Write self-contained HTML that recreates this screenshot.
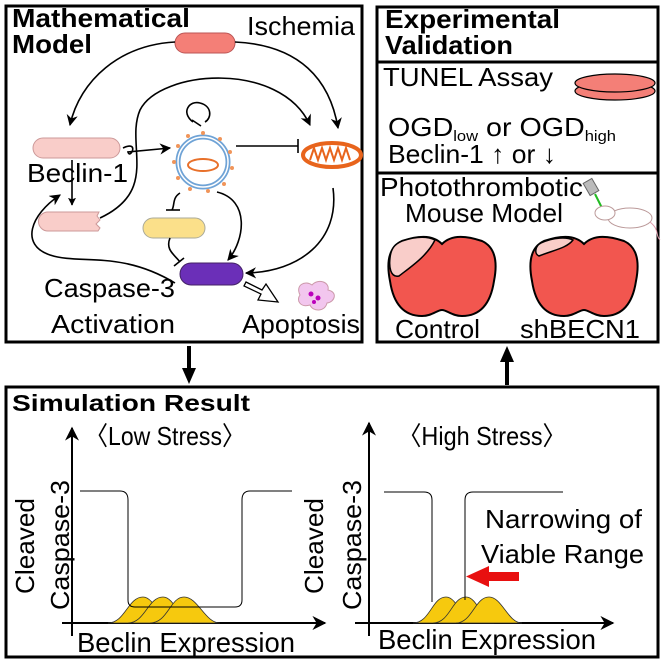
<!DOCTYPE html>
<html><head><meta charset="utf-8"><style>
body{margin:0;background:#fff}
svg{display:block;font-family:"Liberation Sans",sans-serif}
</style></head><body>
<svg width="664" height="664" viewBox="0 0 664 664" xmlns="http://www.w3.org/2000/svg">
<defs>
<marker id="a" viewBox="0 0 10 10" refX="9" refY="5" markerWidth="7" markerHeight="7" orient="auto"><path d="M0,0 L10,5 L0,10 L3,5Z" fill="#000"/></marker>
<marker id="ab" viewBox="0 0 10 10" refX="9" refY="5" markerWidth="5" markerHeight="5" orient="auto"><path d="M0,0 L10,5 L0,10 L2,5Z" fill="#000"/></marker>
</defs>
<g fill="none" stroke="#000" stroke-width="3">
<rect x="6" y="6" width="356" height="336"/>
<rect x="377" y="7" width="281" height="335"/>
<line x1="377" y1="62" x2="658" y2="62"/>
<line x1="377" y1="173" x2="658" y2="173"/>
<rect x="6" y="387" width="652" height="270"/>
</g>
<line x1="189" y1="346" x2="189" y2="372" stroke="#000" stroke-width="4"/>
<path d="M182,368 L189,384 L196,368Z"/>
<line x1="507" y1="385" x2="507" y2="358" stroke="#000" stroke-width="4"/>
<path d="M500,362 L507,346 L514,362Z"/>

<text x="12" y="27" font-size="26" font-weight="bold" textLength="178" lengthAdjust="spacingAndGlyphs">Mathematical</text>
<text x="12" y="53" font-size="26" font-weight="bold" textLength="80" lengthAdjust="spacingAndGlyphs">Model</text>
<text x="247" y="35" font-size="26" textLength="108" lengthAdjust="spacingAndGlyphs">Ischemia</text>
<text x="27" y="182" font-size="26" textLength="101" lengthAdjust="spacingAndGlyphs">Beclin-1</text>
<text x="44" y="297" font-size="26" textLength="131" lengthAdjust="spacingAndGlyphs">Caspase-3</text>
<text x="51" y="333" font-size="26" textLength="124" lengthAdjust="spacingAndGlyphs">Activation</text>
<text x="242" y="333" font-size="26" textLength="118" lengthAdjust="spacingAndGlyphs">Apoptosis</text>

<rect x="175" y="33" width="60" height="20" rx="10" fill="#f47f77" stroke="#b55" stroke-width="1"/>
<rect x="33" y="138" width="87" height="20" rx="10" fill="#f9cdc9" stroke="#c99" stroke-width="1"/>
<path d="M48,212 L99,212 L97,216 L100,220 L96,224 L100,228 L98,231 L48,231 A9.5,9.5 0 0 1 48,212Z" fill="#f9cdc9" stroke="#c99" stroke-width="1"/>
<rect x="143" y="218" width="62" height="20" rx="10" fill="#fbe08a" stroke="#aa9" stroke-width="1"/>
<rect x="180" y="263" width="63" height="22" rx="11" fill="#6b2fb8" stroke="#426" stroke-width="1"/>

<g fill="none" stroke="#000" stroke-width="1.6">
<path d="M175,42 C120,45 80,80 70,125" marker-end="url(#a)"/>
<path d="M235,42 C300,45 330,80 338,128" marker-end="url(#a)"/>
<path d="M100,218 C160,190 125,145 140,110 C160,70 280,60 310,125" marker-end="url(#a)"/>
<path d="M123,148 C140,140 130,160 128,152 L170,148" marker-end="url(#a)"/>
<path d="M72,160 L72,205" marker-end="url(#ab)"/>
<path d="M236,146 L298,146"/><path d="M298,139 L298,153"/>
<path d="M193,122 C180,112 190,100 200,103 C212,106 212,118 205,122"/>
<path d="M192,120 L201,126"/>
<path d="M180,193 C172,198 175,205 172,210"/><path d="M166,210 L180,210"/>
<path d="M170,238 C165,250 175,255 180,262"/><path d="M174,266 L184,258"/>
<path d="M217,192 C250,200 245,240 228,260" marker-end="url(#a)"/>
<path d="M333,188 C340,240 300,272 246,273" marker-end="url(#a)"/>
<path d="M175,283 C120,250 80,265 50,255 C20,245 30,215 60,195" marker-end="url(#a)"/>
</g>
<path d="M246,282 L262,290 L266,284 L278,302 L258,300 L261,294 L244,286Z" fill="#fff" stroke="#000" stroke-width="1.3"/>

<g fill="none">
<circle cx="203" cy="162" r="25" stroke="#6fa3d6" stroke-width="5"/>
<circle cx="203" cy="162" r="25" stroke="#fff" stroke-width="1.5"/>
</g>
<g fill="#f0955a">
<circle cx="203" cy="133" r="2"/><circle cx="220" cy="139" r="2"/><circle cx="230" cy="152" r="2"/><circle cx="232" cy="168" r="2"/><circle cx="224" cy="184" r="2"/><circle cx="208" cy="191" r="2"/><circle cx="190" cy="189" r="2"/><circle cx="178" cy="178" r="2"/><circle cx="174" cy="162" r="2"/><circle cx="178" cy="146" r="2"/><circle cx="188" cy="136" r="2"/>
</g>
<ellipse cx="203" cy="165" rx="15" ry="6" fill="#fff" stroke="#e8702a" stroke-width="2"/>
<ellipse cx="332" cy="155" rx="29" ry="12" fill="#fff" stroke="#e8641c" stroke-width="4"/>
<path d="M310,160 L314,148 L318,160 L322,148 L326,160 L330,148 L334,160 L338,148 L342,160 L346,148 L350,160" fill="none" stroke="#e8641c" stroke-width="2"/>
<path d="M300,295 C295,285 305,280 312,285 C318,278 330,282 328,290 C338,292 335,302 327,303 C325,312 313,312 310,305 C300,308 296,300 300,295Z" fill="#f2c6ee" stroke="#c9a" stroke-width="1"/>
<circle cx="311" cy="294" r="2.5" fill="#b0b"/><circle cx="318" cy="298" r="2.5" fill="#b0b"/><circle cx="314" cy="302" r="2" fill="#b0b"/>

<text x="385" y="28" font-size="26" font-weight="bold" textLength="175" lengthAdjust="spacingAndGlyphs">Experimental</text>
<text x="385" y="54" font-size="26" font-weight="bold" textLength="128" lengthAdjust="spacingAndGlyphs">Validation</text>
<text x="383" y="86" font-size="26" textLength="170" lengthAdjust="spacingAndGlyphs">TUNEL Assay</text>
<ellipse cx="615" cy="91" rx="40" ry="9" fill="#f47f77" stroke="#000" stroke-width="1.2"/>
<ellipse cx="615" cy="83" rx="40" ry="9" fill="#f47f77" stroke="#000" stroke-width="1.2"/>
<text x="388" y="136" font-size="26" textLength="228" lengthAdjust="spacingAndGlyphs">OGD<tspan font-size="15" dy="5">low</tspan><tspan dy="-5"> or OGD</tspan><tspan font-size="15" dy="5">high</tspan></text>
<text x="388" y="163" font-size="26" textLength="168" lengthAdjust="spacingAndGlyphs">Beclin-1 ↑ or ↓</text>
<text x="380" y="196" font-size="26" textLength="203" lengthAdjust="spacingAndGlyphs">Photothrombotic</text>
<text x="405" y="222" font-size="26" textLength="158" lengthAdjust="spacingAndGlyphs">Mouse Model</text>
<rect x="586" y="180" width="10" height="14" fill="#bbb" stroke="#666" transform="rotate(-30 591 187)"/>
<line x1="595" y1="194" x2="603" y2="210" stroke="#2b2" stroke-width="2"/>
<ellipse cx="630" cy="218" rx="22" ry="10" fill="#fff" stroke="#b99" stroke-width="1"/>
<ellipse cx="605" cy="213" rx="10" ry="7" fill="#fff" stroke="#b99" stroke-width="1"/>
<path d="M650,222 C660,230 655,235 660,240" fill="none" stroke="#d9a" stroke-width="1"/>
<g stroke="#000" stroke-width="2">
<path transform="translate(387,236)" d="M55,8 C45,-2 30,0 15,5 C0,12 0,30 3,45 C6,65 15,80 35,80 C45,80 50,74 55,74 C60,74 65,80 75,80 C95,80 104,65 107,45 C110,30 110,12 95,5 C80,0 65,-2 55,8Z" fill="#f2564f"/>
<path transform="translate(387,236)" d="M15,5 C30,0 40,0 48,4 C40,20 25,30 12,40 C3,42 2,30 3,22 C4,12 8,8 15,5Z" fill="#f9cdc9" stroke-width="1.5"/>
<path transform="translate(529,236)" d="M55,8 C45,-2 30,0 15,5 C0,12 0,30 3,45 C6,65 15,80 35,80 C45,80 50,74 55,74 C60,74 65,80 75,80 C95,80 104,65 107,45 C110,30 110,12 95,5 C80,0 65,-2 55,8Z" fill="#f2564f"/>
<path transform="translate(529,236)" d="M12,7 C25,1 38,1 44,4 C38,12 25,14 10,20 C5,18 6,10 12,7Z" fill="#f9cdc9" stroke-width="1.5"/>
</g>
<text x="395" y="338" font-size="26" textLength="85" lengthAdjust="spacingAndGlyphs">Control</text>
<text x="520" y="338" font-size="26" textLength="120" lengthAdjust="spacingAndGlyphs">shBECN1</text>

<text x="12" y="411" font-size="23" font-weight="bold" textLength="238" lengthAdjust="spacingAndGlyphs">Simulation Result</text>
<text x="85" y="445" font-size="26" textLength="160" lengthAdjust="spacingAndGlyphs">〈Low Stress〉</text>
<text x="398" y="445" font-size="26" textLength="168" lengthAdjust="spacingAndGlyphs">〈High Stress〉</text>
<g stroke="#000" stroke-width="2" fill="none">
<line x1="72" y1="636" x2="72" y2="428" marker-end="url(#a)"/>
<line x1="62" y1="623" x2="325" y2="623" marker-end="url(#a)"/>
<line x1="369" y1="636" x2="369" y2="423" marker-end="url(#a)"/>
<line x1="355" y1="623" x2="613" y2="623" marker-end="url(#a)"/>
</g>
<text transform="translate(34,594) rotate(-90)" font-size="26" textLength="96" lengthAdjust="spacingAndGlyphs">Cleaved</text>
<text transform="translate(69,610) rotate(-90)" font-size="26" textLength="130" lengthAdjust="spacingAndGlyphs">Caspase-3</text>
<text transform="translate(323,594) rotate(-90)" font-size="26" textLength="96" lengthAdjust="spacingAndGlyphs">Cleaved</text>
<text transform="translate(361,610) rotate(-90)" font-size="26" textLength="130" lengthAdjust="spacingAndGlyphs">Caspase-3</text>
<text x="77" y="652" font-size="28" textLength="218" lengthAdjust="spacingAndGlyphs">Beclin Expression</text>
<text x="378" y="649" font-size="28" textLength="218" lengthAdjust="spacingAndGlyphs">Beclin Expression</text>
<g fill="#f6c90e" stroke="#333" stroke-width="0.8">
<path d="M108,623 C125,623 128,597 143,597 C155,597 160,623 170,623Z"/>
<path d="M128,623 C145,623 148,597 163,597 C175,597 180,623 192,623Z"/>
<path d="M150,623 C168,623 170,597 184,597 C198,597 205,623 220,623Z"/>
<path d="M413,623 C430,623 432,597 446,597 C458,597 462,623 472,623Z"/>
<path d="M433,623 C450,623 452,597 466,597 C478,597 482,623 494,623Z"/>
<path d="M456,623 C472,623 475,597 489,597 C502,597 508,623 522,623Z"/>
</g>
<g fill="none" stroke="#000" stroke-width="1">
<path d="M80,491 L120,491 Q128,491 128,500 L128,600 Q128,607 135,607 L235,607 Q242,607 242,600 L242,500 Q242,491 250,491 L292,491"/>
<path d="M384,492 L424,492 Q432,492 432,500 L432,602"/>
<path d="M465,600 L465,500 Q465,492 473,492 L563,492"/>
</g>
<text x="485" y="528" font-size="26" textLength="157" lengthAdjust="spacingAndGlyphs">Narrowing of</text>
<text x="481" y="563" font-size="26" textLength="163" lengthAdjust="spacingAndGlyphs">Viable Range</text>
<rect x="487" y="572" width="32" height="9" fill="#e81010"/>
<path d="M466,576.5 L489,566 L489,587Z" fill="#e81010"/>
</svg>
</body></html>
